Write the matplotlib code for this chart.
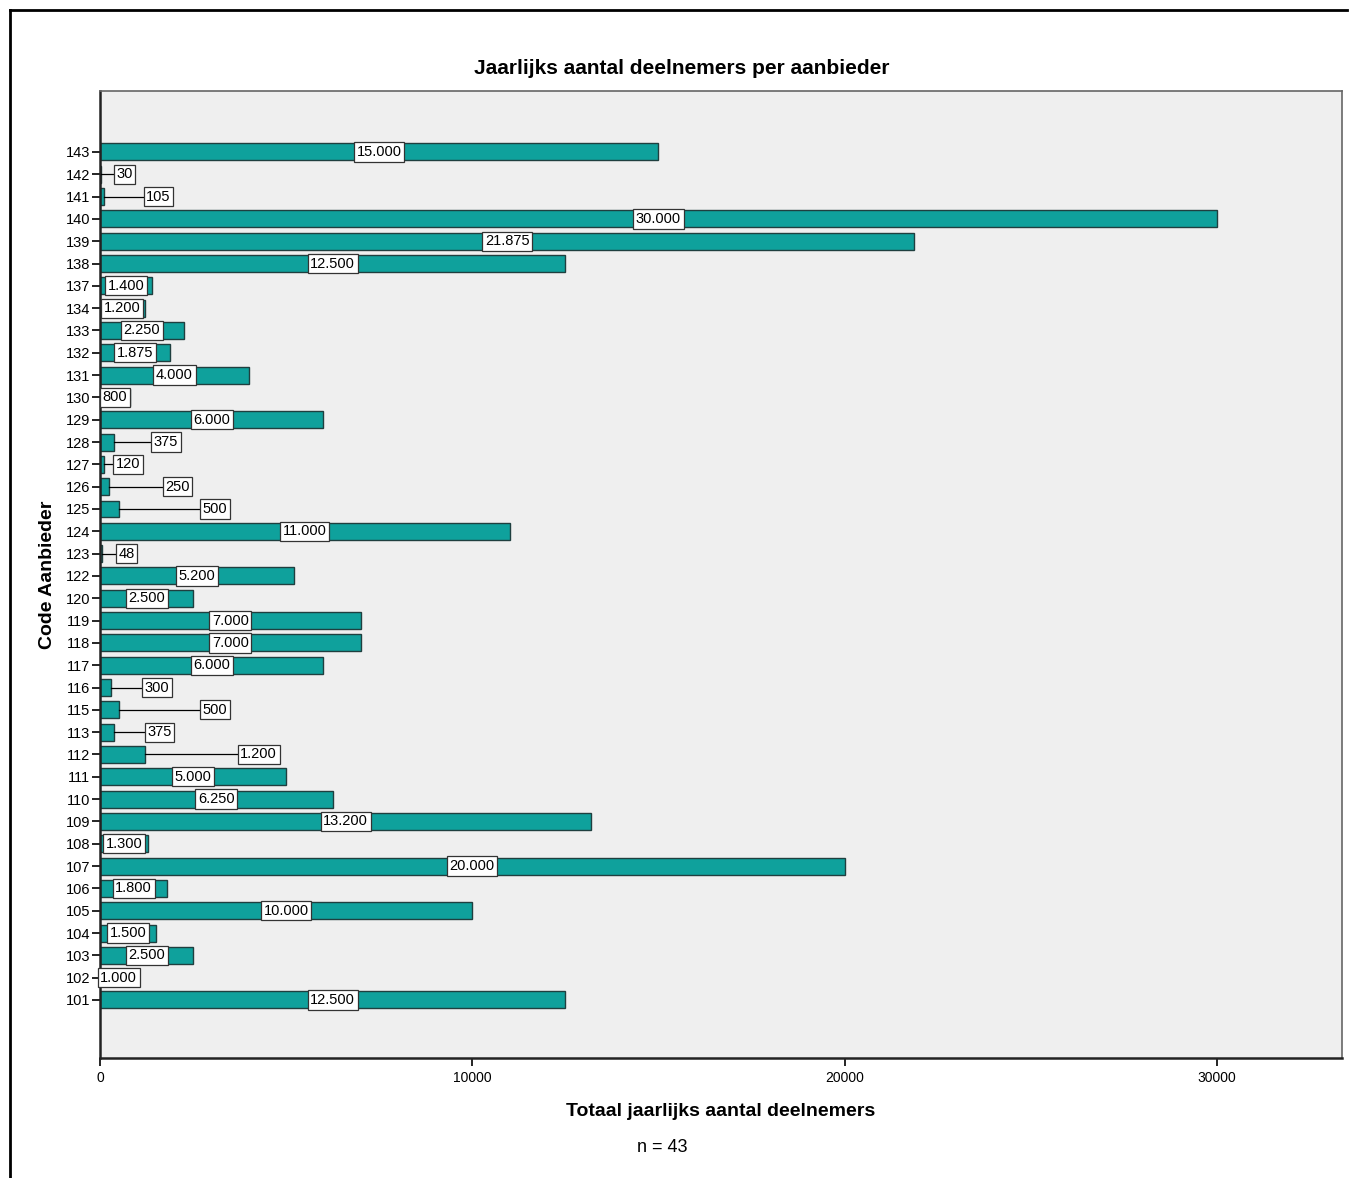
"""Jaarlijks aantal deelnemers per aanbieder — SPSS style horizontal bar chart."""

import matplotlib.pyplot as plt
from matplotlib.lines import Line2D

codes = [101, 102, 103, 104, 105, 106, 107, 108, 109, 110, 111, 112, 113, 115,
         116, 117, 118, 119, 120, 122, 123, 124, 125, 126, 127, 128, 129, 130,
         131, 132, 133, 134, 137, 138, 139, 140, 141, 142, 143]
deelnemers = [12500, 1000, 2500, 1500, 10000, 1800, 20000, 1300, 13200, 6250, 5000,
              1200, 375, 500, 300, 6000, 7000, 7000, 2500, 5200, 48, 11000, 500, 250,
              120, 375, 6000, 800, 4000, 1875, 2250, 1200, 1400, 12500, 21875, 30000,
              105, 30, 15000]
# labels that SPSS pushed out of the bar, with a leader line (code -> label x)
label_uit = {142: 660, 141: 1570, 128: 1775, 127: 750, 126: 2080, 125: 3090,
             123: 710, 116: 1530, 115: 3090, 113: 1600, 112: 4260}

W, H = 1349, 1178
TEAL = "#0fa19c"
BG = "#efefef"
NARROW = ["Liberation Sans Narrow", "Liberation Sans", "DejaVu Sans"]

plt.rcParams["font.family"] = ["Liberation Sans", "DejaVu Sans"]
fig = plt.figure(figsize=(W / 100, H / 100), dpi=100)

# outer frame (only top and left edges are in the picture)
fy, fx = 1 - 9.5 / H, 9.5 / W
fig.lines.append(Line2D([fx, 1347 / W], [fy, fy], transform=fig.transFigure, color="black", linewidth=2))
fig.lines.append(Line2D([fx, fx], [0, fy], transform=fig.transFigure, color="black", linewidth=2))

ax = fig.add_axes([100 / W, 1 - 1058 / H, (1342 - 100) / W, (1058 - 91) / H])
ax.set_facecolor(BG)

ypos = list(range(len(codes)))
ax.barh(ypos, deelnemers, height=0.76, color=TEAL, edgecolor="#1f3f3f", linewidth=1)

for y, code, v in zip(ypos, codes, deelnemers):
    txt = f"{v:,}".replace(",", ".")
    box = dict(boxstyle="square,pad=0.18", facecolor="white", edgecolor="#333333", linewidth=0.9)
    if code in label_uit:
        lx = label_uit[code]
        ax.plot([v, lx], [y, y], color="black", linewidth=0.9, zorder=3)
        ax.text(lx, y, txt, ha="center", va="center", fontsize=10.5, bbox=box, zorder=4)
    else:
        ax.text(v / 2, y, txt, ha="center", va="center", fontsize=10.5, bbox=box, zorder=4)

ax.set_xlim(0, 33360)
ax.set_ylim(-2.6, len(codes) - 1 + 2.73)
ax.set_yticks(ypos)
ax.set_yticklabels([str(c) for c in codes], fontsize=10.5)
ax.set_xticks([0, 10000, 20000, 30000])
ax.set_xticklabels(["0", "10000", "20000", "30000"], fontsize=10, family=NARROW)
ax.tick_params(axis="y", length=6, width=1.2, pad=1)
ax.tick_params(axis="x", length=6, width=1.2, pad=3)

for s in ("left", "bottom"):
    ax.spines[s].set_linewidth(1.8)
    ax.spines[s].set_color("#222222")
for s in ("top", "right"):
    ax.spines[s].set_linewidth(1.2)
    ax.spines[s].set_color("#666666")

ax.set_xlabel("Totaal jaarlijks aantal deelnemers", fontsize=14, fontweight="bold",
              family=NARROW, labelpad=13)
ax.set_ylabel("Code Aanbieder", fontsize=14, fontweight="bold", family=NARROW, labelpad=7)

fig.text(682 / W, 1 - 68 / H, "Jaarlijks aantal deelnemers per aanbieder",
         ha="center", va="center", fontsize=15, fontweight="bold")
fig.text(662 / W, 1 - 1147 / H, "n = 43", ha="center", va="center", fontsize=13, family=NARROW)

fig.savefig("out.png", dpi=100)
